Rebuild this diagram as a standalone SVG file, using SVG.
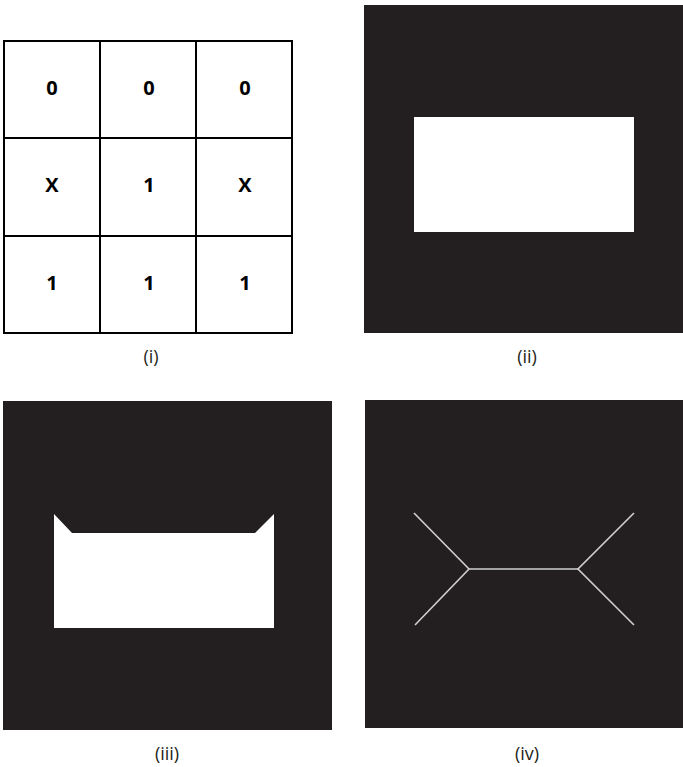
<svg xmlns="http://www.w3.org/2000/svg" width="683" height="767" viewBox="0 0 683 767">
<style>
.cell{font-family:"Open Sans","Noto Sans",sans-serif;font-weight:bold;font-size:20px;fill:#000;text-anchor:middle}
.cap{font-family:"Open Sans","Noto Sans",sans-serif;font-size:18px;fill:#231f20;text-anchor:middle}
.bg{fill:#231f20}
.grid{fill:none;stroke:#000;stroke-width:2}
.skel{fill:none;stroke:#d0d0d0;stroke-width:1.6}
</style>
<rect width="683" height="767" fill="#fff"/>
<g id="panel-i">
<rect class="grid" x="4" y="41" width="288" height="292"/>
<line class="grid" x1="100" y1="41" x2="100" y2="333"/>
<line class="grid" x1="196" y1="41" x2="196" y2="333"/>
<line class="grid" x1="4" y1="138" x2="292" y2="138"/>
<line class="grid" x1="4" y1="236" x2="292" y2="236"/>
<text class="cell" x="52" y="95">0</text>
<text class="cell" x="149" y="95">0</text>
<text class="cell" x="245" y="95">0</text>
<text class="cell" x="52" y="192">X</text>
<text class="cell" x="149" y="192">1</text>
<text class="cell" x="245" y="192">X</text>
<text class="cell" x="52" y="290">1</text>
<text class="cell" x="149" y="290">1</text>
<text class="cell" x="245" y="290">1</text>
<text class="cap" x="151" y="363">(i)</text>
</g>
<g id="panel-ii">
<rect class="bg" x="364" y="5" width="319" height="328"/>
<rect x="414" y="117" width="220" height="115" fill="#fff"/>
<text class="cap" x="527" y="363">(ii)</text>
</g>
<g id="panel-iii">
<rect class="bg" x="3" y="401" width="329" height="329"/>
<polygon points="54,514 72,533 255,533 274,514 274,628 54,628" fill="#fff"/>
<text class="cap" x="167" y="760">(iii)</text>
</g>
<g id="panel-iv">
<rect class="bg" x="365" y="400" width="318" height="328"/>
<polyline class="skel" points="414,513 469,569 415,625"/>
<line class="skel" x1="469" y1="569" x2="578" y2="569"/>
<polyline class="skel" points="634,513 578,569 634,625"/>
<text class="cap" x="527" y="760">(iv)</text>
</g>
</svg>
